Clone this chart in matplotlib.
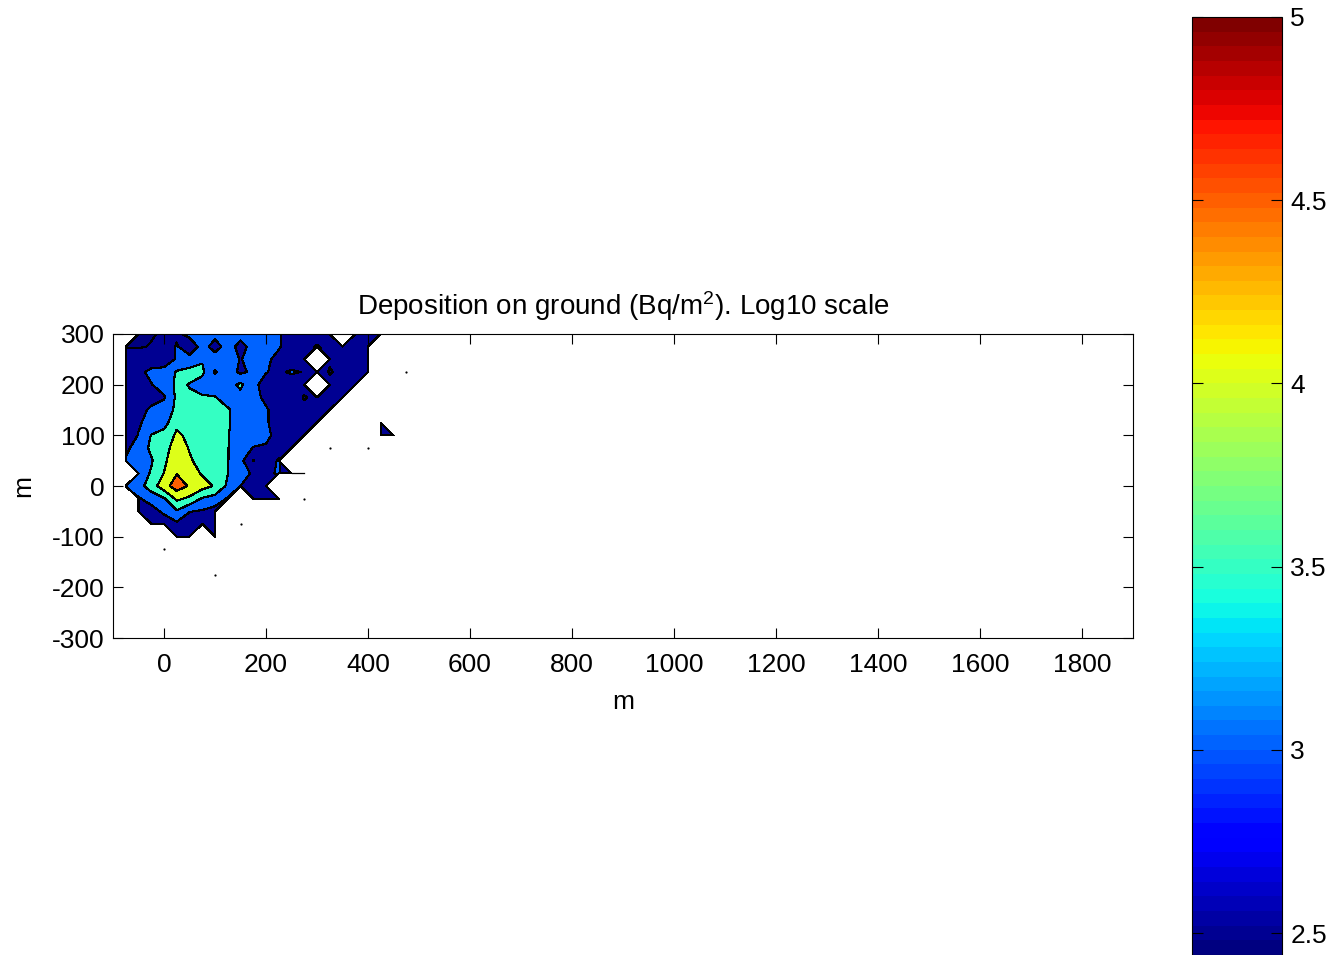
import numpy as np
import matplotlib
matplotlib.use('Agg')
import matplotlib.pyplot as plt
from matplotlib import colors as mcolors
from matplotlib.cm import ScalarMappable

plt.rcParams['font.family'] = ['Liberation Sans', 'DejaVu Sans']
plt.rcParams['font.size'] = 19
plt.rcParams['axes.unicode_minus'] = False
plt.rcParams['mathtext.fontset'] = 'custom'
plt.rcParams['mathtext.rm'] = 'Liberation Sans'
plt.rcParams['mathtext.default'] = 'regular'

N = np.nan

# grid of the deposition field (m)
x_m = [-100, -75, -50, -25, 0, 25, 50, 75, 100, 125, 150, 175, 200,
       225, 250, 275, 300, 325, 350, 375, 400, 425, 450, 475, 500]
y_m = [300, 275, 250, 225, 200, 175, 150, 125, 100, 75, 50, 25, 0,
       -25, -50, -75, -100, -125, -150, -175]

# log10 deposition (Bq/m2), NaN = nothing deposited
dep = np.array([
    # -100 -75   -50   -25   0     25    50    75    100   125   150   175   200   225   250   275   300   325   350   375   400   425   450   475   500
    [N, N,    2.46, 2.47, 2.55, 2.9,  3.15, 3.2,  3.15, 3.2,  3.15, 3.1,  3.1,  3.05, 2.7,  2.75, 2.7,  2.6,  N,    2.6,  2.6,  2.55, N,    N,    N],
    [N, 2.49, 2.47, 2.52, 2.6,  3.05, 2.65, 3.2,  2.8,  3.2,  2.85, 3.15, 3.1,  3.05, 2.7,  2.6,  2.47, 2.6,  2.6,  2.65, 2.55, N,    N,    N,    N],
    [N, 2.6,  2.7,  2.75, 2.75, 3.05, 3.2,  3.45, 3.25, 3.2,  2.98, 3.15, 3.1,  2.85, 2.6,  2.65, N,    2.55, 2.6,  2.6,  2.55, N,    N,    N,    N],
    [N, 2.65, 2.9,  3.1,  3.15, 3.55, 3.65, 3.6,  2.95, 3.25, 2.9,  3.1,  3.02, 2.9,  3.08, 2.97, 2.7,  2.47, 2.6,  2.6,  2.55, N,    N,    2.52, N],
    [N, 2.7,  2.95, 2.98, 3.2,  3.6,  3.48, 3.3,  3.25, 3.3,  3.6,  3.1,  2.85, 2.75, 2.6,  2.65, N,    2.6,  2.6,  2.55, N,    N,    N,    N,    N],
    [N, 2.55, 2.6,  2.8,  2.95, 3.6,  3.55, 3.55, 3.52, 3.3,  3.35, 3.15, 2.9,  2.8,  2.7,  2.47, 2.6,  2.6,  2.55, N,    N,    N,    N,    N,    N],
    [N, 2.6,  2.8,  3.1,  3.25, 3.6,  3.7,  3.65, 3.6,  3.55, 3.3,  3.2,  3.05, 2.8,  2.6,  2.6,  2.6,  2.55, N,    N,    N,    N,    N,    N,    N],
    [N, 2.6,  2.95, 3.15, 3.3,  3.9,  3.75, 3.8,  3.7,  3.55, 3.3,  3.2,  3.05, 2.8,  2.65, 2.6,  2.55, N,    N,    N,    N,    2.55, N,    N,    N],
    [N, 2.75, 3.02, 3.52, 3.7,  4.08, 3.9,  3.8,  3.75, 3.52, 3.3,  3.2,  3.1,  2.85, 2.6,  2.55, N,    N,    N,    N,    N,    2.55, 2.55, N,    N],
    [N, 2.9,  3.2,  3.6,  3.8,  4.25, 3.97, 3.8,  3.75, 3.52, 3.2,  2.98, 2.95, 2.8,  2.6,  N,    N,    2.52, N,    N,    2.52, N,    N,    N,    N],
    [N, 3.05, 3.25, 3.45, 3.9,  4.35, 4.05, 3.85, 3.7,  3.52, 3.15, 2.48, 2.75, 3.05, N,    N,    N,    N,    N,    N,    N,    N,    N,    N,    N],
    [N, N,    3.2,  3.55, 4.01, 4.48, 4.25, 3.95, 3.7,  3.51, 3.15, 2.95, 2.9,  3.05, 2.6,  2.55, N,    N,    N,    N,    N,    N,    N,    N,    N],
    [N, 3.05, 3.3,  3.75, 4.3,  4.75, 4.45, 4.2,  3.95, 3.4,  3.0,  2.7,  2.7,  N,    N,    N,    N,    N,    N,    N,    N,    N,    N,    N,    N],
    [N, N,    2.95, 3.2,  3.45, 4.1,  3.9,  3.45, 3.3,  2.95, N,    2.6,  2.65, 2.55, N,    2.52, N,    N,    N,    N,    N,    N,    N,    N,    N],
    [N, N,    2.6,  2.8,  3.1,  3.45, 3.02, 2.95, 2.8,  N,    N,    N,    N,    N,    N,    N,    N,    N,    N,    N,    N,    N,    N,    N,    N],
    [N, N,    N,    2.6,  2.7,  2.9,  2.75, 2.7,  2.6,  N,    2.52, N,    N,    N,    N,    N,    N,    N,    N,    N,    N,    N,    N,    N,    N],
    [N, N,    N,    N,    N,    2.6,  2.6,  N,    2.55, N,    N,    N,    N,    N,    N,    N,    N,    N,    N,    N,    N,    N,    N,    N,    N],
    [N, N,    N,    N,    2.52, N,    N,    N,    N,    N,    N,    N,    N,    N,    N,    N,    N,    N,    N,    N,    N,    N,    N,    N,    N],
    [N, N,    N,    N,    N,    N,    N,    N,    N,    N,    N,    N,    N,    N,    N,    N,    N,    N,    N,    N,    N,    N,    N,    N,    N],
    [N, N,    N,    N,    N,    N,    N,    N,    2.52, N,    N,    N,    N,    N,    N,    N,    N,    N,    N,    N,    N,    N,    N,    N,    N],
])

levels = [2.44, 2.5, 3.0, 3.5, 4.0, 4.5, 5.0]
cbar_ticks = [2.5, 3, 3.5, 4, 4.5, 5]
x_ticks = [0, 200, 400, 600, 800, 1000, 1200, 1400, 1600, 1800]
y_ticks = [-300, -200, -100, 0, 100, 200, 300]

W, H = 1334, 955
fig = plt.figure(figsize=(W / 100, H / 100), dpi=100)
ax = fig.add_axes([113 / W, 1 - 638 / H, 1020 / W, 304 / H])

cmap = plt.get_cmap('jet', 64)
norm = mcolors.Normalize(vmin=2.44, vmax=5)
# matlab colours each band by its lower level
fill_colors = [cmap(norm(v)) for v in levels[:-1]]

X, Y = np.meshgrid(x_m, y_m)
Z = np.ma.masked_invalid(dep)
cs = ax.contourf(X, Y, Z, levels=levels, colors=fill_colors, corner_mask=True)
cs.set_edgecolor('k')
cs.set_linewidth(0.8)

# isolated grid values and lone segments give no polygon, draw them as marks
fin = np.isfinite(dep)
cnt = (fin[:-1, :-1].astype(int) + fin[1:, :-1] + fin[:-1, 1:] + fin[1:, 1:])
filled = cnt >= 3
nr, nc = dep.shape


def cell_filled(r, c):
    return 0 <= r < nr - 1 and 0 <= c < nc - 1 and filled[r, c]


for i in range(nr):
    for j in range(nc):
        if not fin[i, j]:
            continue
        if j + 1 < nc and fin[i, j + 1]:
            if not (cell_filled(i - 1, j) or cell_filled(i, j)):
                ax.plot([x_m[j], x_m[j + 1]], [y_m[i], y_m[i]], color='k', lw=0.9)
        if i + 1 < nr and fin[i + 1, j]:
            if not (cell_filled(i, j - 1) or cell_filled(i, j)):
                ax.plot([x_m[j], x_m[j]], [y_m[i], y_m[i + 1]], color='k', lw=0.9)
        near = [cell_filled(i - 1, j - 1), cell_filled(i - 1, j), cell_filled(i, j - 1), cell_filled(i, j)]
        nb = [(i, j - 1), (i, j + 1), (i - 1, j), (i + 1, j)]
        has_nb = any(0 <= a < nr and 0 <= b < nc and fin[a, b] for a, b in nb)
        if not any(near) and not has_nb:
            ax.plot(x_m[j], y_m[i], 'o', color='k', ms=1.6, mew=0)

ax.set_xlim(-100, 1900)
ax.set_ylim(-300, 300)
ax.set_xticks(x_ticks)
ax.set_yticks(y_ticks)
ax.tick_params(direction='in', top=True, right=True, length=7, width=0.8)
ax.tick_params(axis='x', pad=11)
ax.tick_params(axis='y', pad=6)
for s in ax.spines.values():
    s.set_linewidth(0.8)
ax.set_title('Deposition on ground (Bq/m$^2$). Log10 scale', fontsize=20, pad=14)
ax.set_xlabel('m', labelpad=9)
ax.set_ylabel('m', labelpad=12)

cax = fig.add_axes([1192 / W, 0, 90 / W, (H - 17) / H])
cb = fig.colorbar(ScalarMappable(norm=norm, cmap=cmap), cax=cax, ticks=cbar_ticks)
cb.ax.set_yticklabels(['2.5', '3', '3.5', '4', '4.5', '5'])
cb.ax.tick_params(direction='in', length=8, width=0.8, left=True, right=True, pad=6)
cb.outline.set_linewidth(0.8)

fig.savefig('out.png', dpi=100)
